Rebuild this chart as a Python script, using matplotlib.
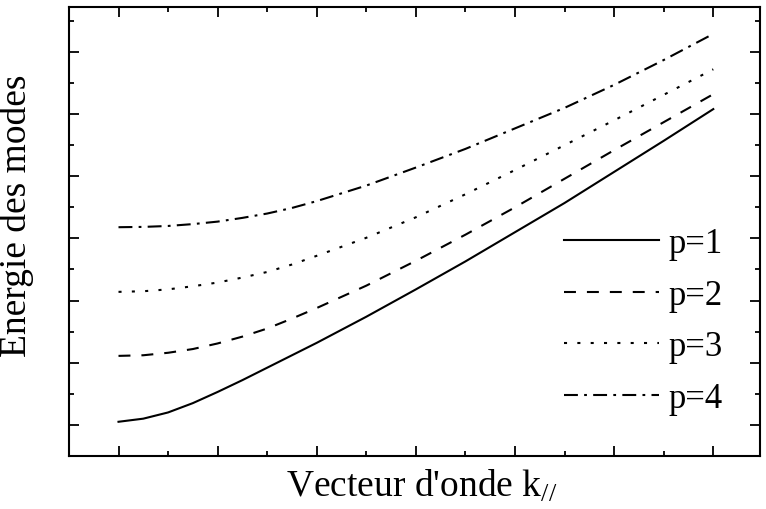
import numpy as np
import matplotlib
matplotlib.use('Agg')
import matplotlib.pyplot as plt

plt.rcParams['font.family'] = ['Liberation Serif', 'DejaVu Serif']
plt.rcParams['mathtext.fontset'] = 'custom'
plt.rcParams['mathtext.rm'] = 'Liberation Serif'
plt.rcParams['mathtext.it'] = 'Liberation Serif:italic'
plt.rcParams['lines.scale_dashes'] = False

# wave vector (arbitrary units) and mode energies
k_par = [0, 0.25, 0.5, 0.75, 1, 1.25, 1.5, 1.75, 2, 2.5, 3, 3.5, 4, 4.5, 5, 5.5, 6]
e_p1 = [0.05, 0.10, 0.20, 0.35, 0.53, 0.72, 0.92, 1.12, 1.32,
        1.74, 2.18, 2.63, 3.10, 3.57, 4.07, 4.57, 5.08]
e_p2 = [1.11, 1.12, 1.16, 1.22, 1.31, 1.42, 1.55, 1.71, 1.88,
        2.24, 2.64, 3.06, 3.50, 3.96, 4.42, 4.87, 5.32]
e_p3 = [2.14, 2.15, 2.18, 2.23, 2.29, 2.37, 2.46, 2.58, 2.72,
        3.01, 3.34, 3.71, 4.10, 4.50, 4.90, 5.31, 5.72]
e_p4 = [3.18, 3.185, 3.20, 3.23, 3.27, 3.33, 3.40, 3.49, 3.60,
        3.85, 4.14, 4.44, 4.77, 5.10, 5.47, 5.87, 6.29]
labels = ['p=1', 'p=2', 'p=3', 'p=4']

fig = plt.figure(figsize=(7.66, 5.10), dpi=100)
ax = fig.add_axes([0.090, 0.104, 0.902, 0.880])

lw = 1.5
ax.plot(k_par, e_p1, color='black', lw=lw, linestyle='-', label=labels[0])
ax.plot(k_par, e_p2, color='black', lw=lw, linestyle=(0, (8.6, 7.9)), label=labels[1])
ax.plot(k_par, e_p3, color='black', lw=lw, linestyle=(0, (2.2, 7.4)), label=labels[2])
ax.plot(k_par, e_p4, color='black', lw=lw, linestyle=(0, (10, 4.5, 2, 4.5)), label=labels[3])

ax.set_xlim(-0.5, 6.47)
ax.set_ylim(-0.5, 6.72)

ax.set_xticks(np.arange(0, 7, 1))
ax.set_xticks(np.arange(0.5, 6.5, 1), minor=True)
ax.set_yticks(np.arange(0, 7, 1))
ax.set_yticks(np.arange(-0.5, 7, 1), minor=True)
ax.tick_params(which='both', direction='in', top=True, right=True,
               labelbottom=False, labelleft=False, width=1.3, color='black')
ax.tick_params(which='major', length=7)
ax.tick_params(which='minor', length=3.5)
for s in ax.spines.values():
    s.set_linewidth(1.5)

ax.set_xlabel("Vecteur d'onde k$_{\\mathit{//}}$", fontsize=27)
ax.set_ylabel('Energie des modes', fontsize=27)
ax.xaxis.set_label_coords(0.51, -0.025)
ax.yaxis.set_label_coords(-0.05, 0.537)

ax.legend(loc='lower right', bbox_to_anchor=(0.946, 0.092), frameon=False,
          fontsize=25, handlelength=2.75, handletextpad=0.26, labelspacing=0.53,
          borderpad=0, borderaxespad=0)

plt.savefig('out.png', dpi=100)
